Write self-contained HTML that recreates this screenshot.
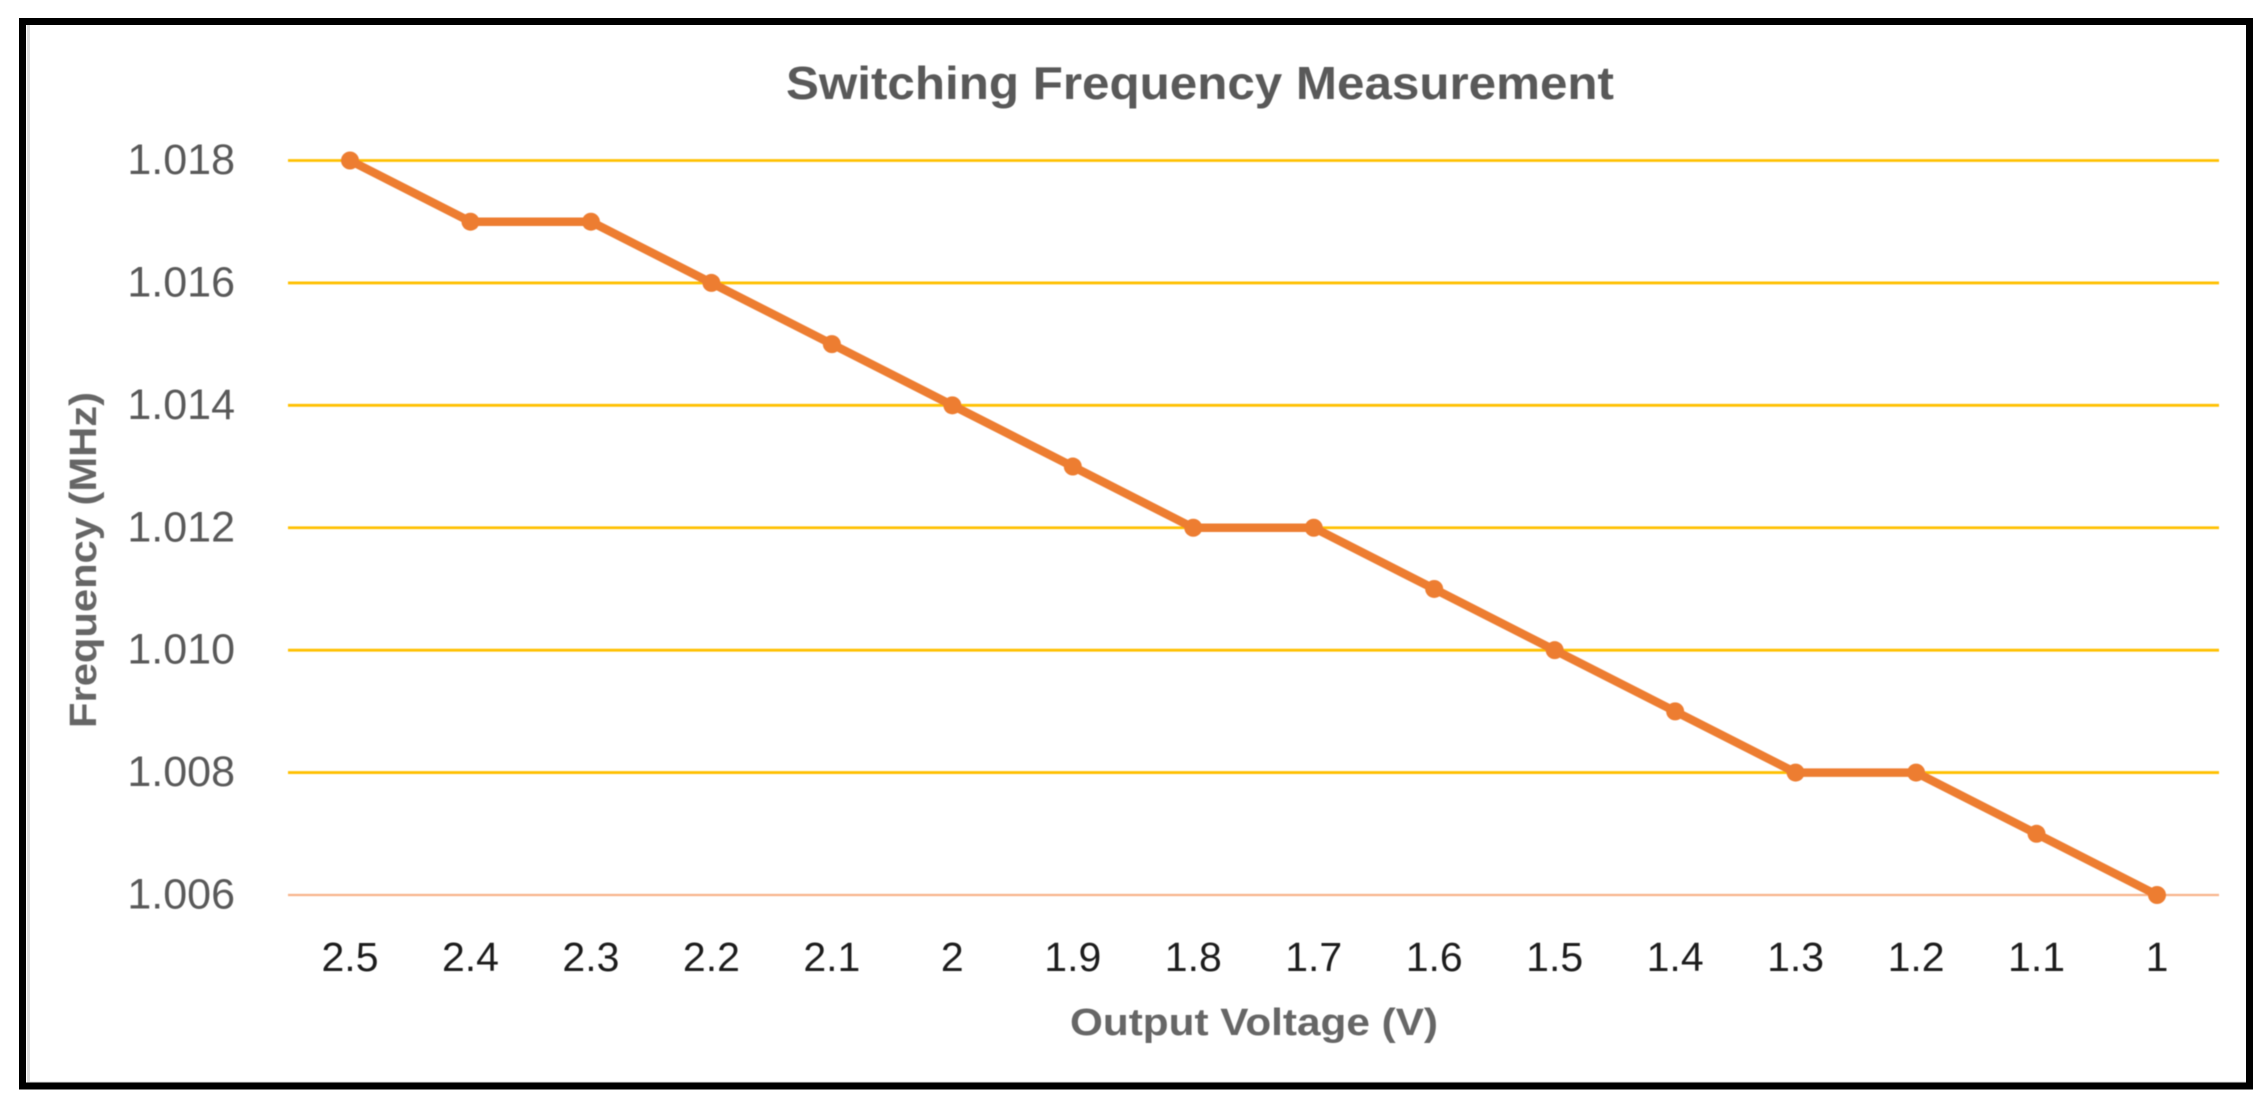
<!DOCTYPE html>
<html lang="en">
<head>
<meta charset="utf-8">
<title>Switching Frequency Measurement</title>
<style>
  html, body { margin: 0; padding: 0; width: 2266px; height: 1112px; background: #fff; overflow: hidden; }
  svg { display: block; }
  text { font-family: "Liberation Sans", sans-serif; }
  #soft { filter: blur(0.6px); }
</style>
</head>
<body>
<svg id="chart" width="2266" height="1112" viewBox="0 0 2266 1112" xmlns="http://www.w3.org/2000/svg">
  <rect x="0" y="0" width="2266" height="1112" fill="#ffffff"/>
  <path d="M28.5 25 V1083 H2246" fill="none" stroke="#dddddd" stroke-width="3"/>
  <rect x="22.5" y="21.5" width="2227" height="1064.5" fill="none" stroke="#000000" stroke-width="7"/>
  <g id="soft">
    <g id="grid"></g>
    <g id="y-ticks"></g>
    <g id="x-ticks"></g>
    <g id="series"></g>
    <text x="1200" y="99" text-anchor="middle" font-size="46" font-weight="700" fill="#595959" textLength="828" lengthAdjust="spacingAndGlyphs">Switching Frequency Measurement</text>
    <text x="1254" y="1035" text-anchor="middle" font-size="38" font-weight="700" fill="#666666" textLength="368" lengthAdjust="spacingAndGlyphs">Output Voltage (V)</text>
    <text transform="translate(96 560) rotate(-90)" text-anchor="middle" font-size="38" font-weight="700" fill="#666666" textLength="336" lengthAdjust="spacingAndGlyphs">Frequency (MHz)</text>
  </g>
</svg>
<script>
const categories = ["2.5","2.4","2.3","2.2","2.1","2","1.9","1.8","1.7","1.6","1.5","1.4","1.3","1.2","1.1","1"];
const frequencyValues = [1.018,1.017,1.017,1.016,1.015,1.014,1.013,1.012,1.012,1.011,1.010,1.009,1.008,1.008,1.007,1.006];
const yTickValues = [1.006,1.008,1.010,1.012,1.014,1.016,1.018];

const NS = "http://www.w3.org/2000/svg";
const yMin = 1.006, yMax = 1.018;
const yPixelBottom = 895, yPixelTop = 160.5;
const xPixelFirst = 350, xPixelLast = 2157;
const gridLeft = 288, gridRight = 2219;

function xScale(index) {
  return xPixelFirst + (xPixelLast - xPixelFirst) * index / (categories.length - 1);
}
function yScale(value) {
  return yPixelBottom - (yPixelBottom - yPixelTop) * (value - yMin) / (yMax - yMin);
}
function svgEl(tag, attrs) {
  const el = document.createElementNS(NS, tag);
  for (const key in attrs) el.setAttribute(key, attrs[key]);
  return el;
}

const grid = document.getElementById("grid");
const yTicks = document.getElementById("y-ticks");
yTickValues.forEach(function (value, i) {
  const y = yScale(value);
  const line = svgEl("line", {
    x1: gridLeft, x2: gridRight, y1: y, y2: y,
    stroke: i === 0 ? "#f8b48a" : "#ffc000",
    "stroke-width": i === 0 ? 2.2 : 2.8
  });
  
  
  grid.appendChild(line);

  const label = svgEl("text", {
    x: 235, y: y + 13.5, "text-anchor": "end", "font-size": 43, fill: "#595959"
  });
  label.textContent = value.toFixed(3);
  
  
  yTicks.appendChild(label);
});

const xTicks = document.getElementById("x-ticks");
categories.forEach(function (category, i) {
  const label = svgEl("text", {
    x: xScale(i), y: 971, "text-anchor": "middle", "font-size": 41, fill: "#1c1c1c"
  });
  label.textContent = category;
  
  
  xTicks.appendChild(label);
});

const series = document.getElementById("series");
const linePoints = frequencyValues.map(function (value, i) {
  return xScale(i) + "," + yScale(value);
}).join(" ");
const polyline = svgEl("polyline", {
  points: linePoints, fill: "none", stroke: "#ed7d31",
  "stroke-width": 8.5, "stroke-linejoin": "round", "stroke-linecap": "round"
});


series.appendChild(polyline);

frequencyValues.forEach(function (value, i) {
  const point = svgEl("circle", {
    cx: xScale(i), cy: yScale(value), r: 9, fill: "#ed7d31"
  });
  
  
  series.appendChild(point);
});
</script>
</body>
</html>
